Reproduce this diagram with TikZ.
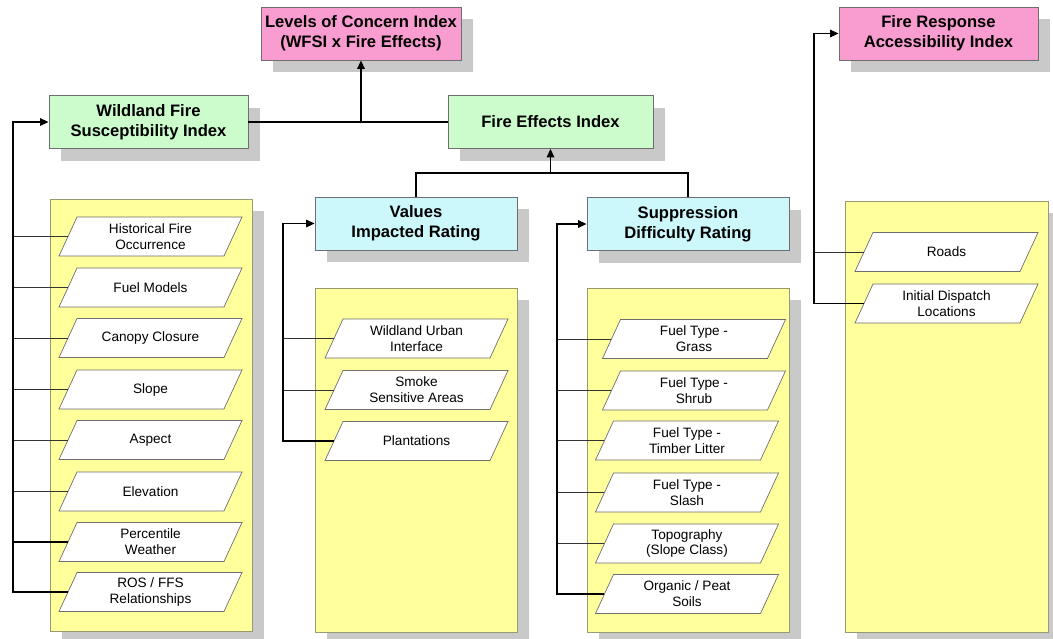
\documentclass[tikz,border=0pt]{standalone}
\usepackage{fontspec}
\setmainfont{Liberation Sans}
\usetikzlibrary{arrows.meta,shadows}

\definecolor{hdrpink}{HTML}{F99CCF}
\definecolor{hdrgreen}{HTML}{CCFCCC}
\definecolor{hdrcyan}{HTML}{CCF8FC}
\definecolor{panelyellow}{HTML}{FFFF9C}
\definecolor{shadowgray}{HTML}{C9C9C9}
\definecolor{edgegray}{HTML}{6E6E6E}
\definecolor{paneledge}{HTML}{9A9A72}

% parallelogram input layer: outline first, then the named text node on top
\newcommand\slantbox[4]{%
  \draw[slantline] (#2-91.5,#3+19.5) -- (#2-73.5,#3-19.5) -- (#2+91.5,#3-19.5) -- (#2+73.5,#3+19.5) -- cycle;
  \node[slanttext] (#1) at (#2,#3) {#4};
}

\begin{document}
\begin{tikzpicture}[x=1pt,y=-1pt,
  shade box/.style={drop shadow={shadow xshift=12pt,shadow yshift=-12pt,fill=shadowgray,opacity=1}},
  header/.style={draw=edgegray,line width=0.8pt,shade box,align=center,inner sep=0pt,
    font=\bfseries\fontsize{16.6}{20}\selectfont},
  panel/.style={draw=paneledge,line width=0.8pt,fill=panelyellow,shade box,inner sep=0pt},
  slantline/.style={draw=edgegray,line width=0.7pt,fill=white},
  slanttext/.style={minimum width=165pt,minimum height=39pt,inner sep=0pt,align=center,
    font=\fontsize{13.6}{15.8}\selectfont},
  feed/.style={draw=black!80,line width=0.7pt},
  trunk/.style={draw=black,line width=1.5pt},
  tip/.style={-{Triangle[length=8.5pt,width=7.5pt]}},
]
\useasboundingbox[fill=white] (0,0) rectangle (1053,638);

% input panels
\node[panel,minimum width=202pt,minimum height=432pt] (panelW) at (151,415) {};
\node[panel,minimum width=202pt,minimum height=344pt] (panelV) at (416,460) {};
\node[panel,minimum width=202pt,minimum height=344pt] (panelS) at (688,460) {};
\node[panel,minimum width=203pt,minimum height=431pt] (panelR) at (946.5,416.5) {};

% index and rating boxes
\node[header,fill=hdrpink,minimum width=200pt,minimum height=53pt] (loc) at (361,33.5)
  {Levels of Concern Index\\(WFSI x Fire Effects)};
\node[header,fill=hdrpink,minimum width=199pt,minimum height=53pt] (fra) at (938.5,33.5)
  {Fire Response\\Accessibility Index};
\node[header,fill=hdrgreen,minimum width=199pt,minimum height=53pt] (wfsi) at (148.5,122)
  {Wildland Fire\\Susceptibility Index};
\node[header,fill=hdrgreen,minimum width=205pt,minimum height=53pt] (fei) at (550.5,122)
  {Fire Effects Index};
\node[header,fill=hdrcyan,minimum width=202pt,minimum height=53pt] (vir) at (416,223.5)
  {Values\\Impacted Rating};
\node[header,fill=hdrcyan,minimum width=202pt,minimum height=53pt] (sdr) at (688,224)
  {Suppression\\Difficulty Rating};

% susceptibility inputs
\slantbox{hfo}{150.5}{236.5}{Historical Fire\\Occurrence}
\slantbox{fmod}{150.5}{287.5}{Fuel Models}
\slantbox{canopy}{150.5}{338}{Canopy Closure}
\slantbox{slope}{150.5}{389.5}{Slope}
\slantbox{aspect}{150.5}{440}{Aspect}
\slantbox{elev}{150.5}{491.5}{Elevation}
\slantbox{pctw}{150.5}{542}{Percentile\\Weather}
\slantbox{ros}{150.5}{592}{ROS / FFS\\Relationships}

% values inputs
\slantbox{wui}{416.5}{338.5}{Wildland Urban\\Interface}
\slantbox{smoke}{416.5}{390}{Smoke\\Sensitive Areas}
\slantbox{plant}{416.5}{441}{Plantations}

% suppression inputs
\slantbox{grass}{694}{339}{Fuel Type -\\Grass}
\slantbox{shrub}{694}{390.5}{Fuel Type -\\Shrub}
\slantbox{timber}{687}{440.5}{Fuel Type -\\Timber Litter}
\slantbox{slash}{687}{492.5}{Fuel Type -\\Slash}
\slantbox{topo}{687}{543.5}{Topography\\(Slope Class)}
\slantbox{peat}{687}{594}{Organic / Peat\\Soils}

% accessibility inputs
\slantbox{roads}{946.5}{252}{Roads}
\slantbox{dispatch}{946.5}{303.5}{Initial Dispatch\\Locations}

% collector buses
\coordinate (busW) at (13,0);
\coordinate (busV) at (283,0);
\coordinate (busS) at (557,0);
\coordinate (busR) at (814,0);
\coordinate (rateBus) at (0,173);

% susceptibility feeds
\foreach \n in {hfo,fmod,canopy,slope,aspect,elev}
  \draw[feed] (\n.west) -- (\n.west -| busW);
\draw[trunk] (pctw.west) -- (pctw.west -| busW);
\draw[trunk,tip] (ros.west) -- (ros.west -| busW) |- (wfsi.west);

% values feeds
\foreach \n in {wui,smoke}
  \draw[feed] (\n.west) -- (\n.west -| busV);
\draw[trunk,tip] (plant.west) -- (plant.west -| busV) |- (vir.west);

% suppression feeds
\foreach \n in {grass,shrub,timber,slash,topo}
  \draw[feed] (\n.west) -- (\n.west -| busS);
\draw[trunk,tip] (peat.west) -- (peat.west -| busS) |- (sdr.west);

% accessibility feeds
\draw[feed] (roads.west) -- (roads.west -| busR);
\draw[trunk,tip] (dispatch.west) -- (dispatch.west -| busR) |- (fra.west);

% ratings into fire effects
\draw[trunk] (vir.north) |- (sdr.north |- rateBus) -- (sdr.north);
\draw[trunk,tip] (fei.south |- rateBus) -- (fei.south);

% susceptibility and effects combine into levels of concern
\draw[trunk] (wfsi.east) -- (fei.west);
\draw[trunk,tip] (loc.south |- wfsi.east) -- (loc.south);
\end{tikzpicture}
\end{document}
